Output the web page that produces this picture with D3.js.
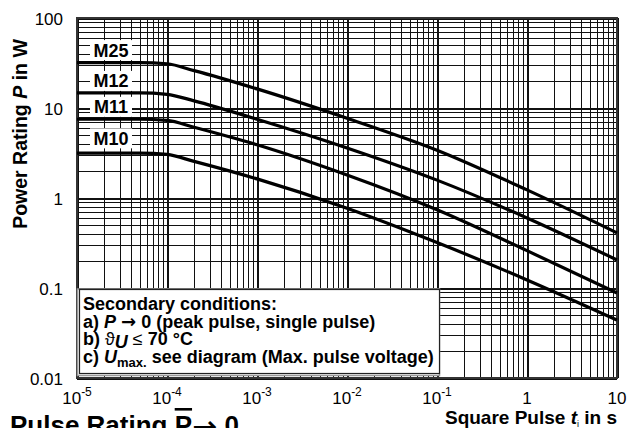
<!DOCTYPE html>
<html>
<head>
<meta charset="utf-8">
<script src="https://cdn.jsdelivr.net/npm/d3@7"></script>
<style>
  body { margin: 0; background: #fff; }
  svg { display: block; font-family: "Liberation Sans", Arial, sans-serif; }
  .grid line { stroke: #111; stroke-width: 1; shape-rendering: crispEdges; }
  .grid .major line { stroke-width: 2; }
  .grid path { display: none; }
  .curve { fill: none; stroke: #000; stroke-width: 3.2; }
  .arrow { font-family: "DejaVu Sans", sans-serif; }
</style>
</head>
<body>
<div id="chart"></div>
<script>
// pulse duration (s) sample points and the read-off power rating (W) of each type
var pulseT = [1e-5, 5e-5, 1e-4, 2e-4, 1e-3, 1e-2, 1e-1, 1, 10];
var m25 = [32, 32, 31, 26, 16.3, 7.7, 3.4, 1.23, 0.41];
var m12 = [14.7, 14.7, 14.2, 12, 7.5, 3.6, 1.58, 0.6, 0.205];
var m11 = [7.5, 7.5, 7.3, 6.1, 3.9, 1.8, 0.74, 0.26, 0.088];
var m10 = [3.16, 3.16, 3.05, 2.55, 1.63, 0.77, 0.32, 0.123, 0.044];

var seriesNames = ["M25", "M12", "M11", "M10"];
var labelValues = [44, 20, 10.3, 4.6];   // where the type labels sit on the P axis

var xDecades = [-5, -4, -3, -2, -1, 0, 1];
var yTicks = [100, 10, 1, 0.1, 0.01];
var yTickLabels = ["100", "10", "1", "0.1", "0.01"];

var width = 631, height = 428;
var margin = { top: 18, right: 14, bottom: 50, left: 77 };

var svg = d3.select("#chart")
  .append("svg")
  .attr("width", width)
  .attr("height", height);

var xScale = d3.scaleLog()
  .domain([1e-5, 10])
  .range([margin.left, width - margin.right]);

var yScale = d3.scaleLog()
  .domain([0.01, 100])
  .range([height - margin.bottom, margin.top]);

// log grid values 1..9 per decade
function logGrid(lo, hi) {
  var vals = [];
  for (var d = lo; d < hi; d++) {
    for (var k = 1; k < 10; k++) vals.push(+(k * Math.pow(10, d)).toPrecision(3));
  }
  vals.push(Math.pow(10, hi));
  return vals;
}
function isMajor(v) {
  var l = Math.log10(v);
  return Math.abs(l - Math.round(l)) < 1e-6;
}

var plotW = xScale.range()[1] - xScale.range()[0];
var plotH = yScale.range()[0] - yScale.range()[1];

var xGrid = svg.append("g")
  .attr("class", "grid")
  .attr("transform", "translate(0," + yScale.range()[0] + ")")
  .call(d3.axisBottom(xScale).tickValues(logGrid(-5, 1)).tickSize(-plotH).tickFormat(""));
xGrid.selectAll(".tick").classed("major", function(d) { return isMajor(d); });

var yGrid = svg.append("g")
  .attr("class", "grid")
  .attr("transform", "translate(" + xScale.range()[0] + ",0)")
  .call(d3.axisLeft(yScale).tickValues(logGrid(-2, 2)).tickSize(-plotW).tickFormat(""));
yGrid.selectAll(".tick").classed("major", function(d) { return isMajor(d); });

// frame
svg.append("rect")
  .attr("x", xScale.range()[0])
  .attr("y", yScale.range()[1])
  .attr("width", plotW)
  .attr("height", plotH)
  .attr("fill", "none")
  .attr("stroke", "#333")
  .attr("stroke-width", 2);

// curves
var line = d3.line()
  .x(function(d) { return xScale(d.t); })
  .y(function(d) { return yScale(d.p); })
  .curve(d3.curveMonotoneX);

var allSeries = [m25, m12, m11, m10].map(function(vals, i) {
  return { name: seriesNames[i], values: vals.map(function(p, j) { return { t: pulseT[j], p: p }; }) };
});

svg.selectAll(".curve")
  .data(allSeries)
  .enter()
  .append("path")
  .attr("class", "curve")
  .attr("d", function(d) { return line(d.values); });

// type labels with white backing
var labels = svg.selectAll(".typeLabel")
  .data(seriesNames)
  .enter()
  .append("g")
  .attr("class", "typeLabel")
  .attr("transform", function(d, i) { return "translate(111," + yScale(labelValues[i]) + ")"; });

labels.append("rect")
  .attr("x", -21).attr("y", -10)
  .attr("width", 42).attr("height", 20)
  .attr("fill", "#fff");

labels.append("text")
  .attr("text-anchor", "middle")
  .attr("dy", "0.36em")
  .style("font-size", "18px")
  .style("font-weight", "bold")
  .text(function(d) { return d; });

// secondary conditions box
var box = svg.append("g").attr("transform", "translate(79,289)");
box.append("rect")
  .attr("x", -1.5).attr("y", 0)
  .attr("width", 362).attr("height", 86.5)
  .attr("fill", "#fff")
  .attr("stroke", "#999")
  .attr("stroke-width", 1.5);
box.append("rect")
  .attr("x", 0.5).attr("y", 0.5)
  .attr("width", 360).attr("height", 84)
  .attr("fill", "#fff")
  .attr("stroke", "#222")
  .attr("stroke-width", 1.2);

var boxText = box.append("text")
  .attr("x", 4)
  .style("font-size", "18px")
  .style("font-weight", "bold");

boxText.append("tspan").attr("x", 4).attr("y", 21).text("Secondary conditions:");

var la = boxText.append("tspan").attr("x", 4).attr("y", 39);
la.append("tspan").text("a) ");
la.append("tspan").style("font-style", "italic").text("P");
la.append("tspan").text(" ");
la.append("tspan").attr("class", "arrow").text("\u2192");
la.append("tspan").text(" 0 (peak pulse, single pulse)");

var lb = boxText.append("tspan").attr("x", 4).attr("y", 56);
lb.append("tspan").text("b) ");
lb.append("tspan").style("font-weight", "normal").text("\u03D1");
lb.append("tspan").style("font-style", "italic").attr("dy", 3).text("U");
lb.append("tspan").style("font-weight", "normal").attr("dy", -3).text(" \u2264 ");
lb.append("tspan").text("70 \u00B0C");

var lc = boxText.append("tspan").attr("x", 4).attr("y", 74);
lc.append("tspan").text("c) ");
lc.append("tspan").style("font-style", "italic").text("U");
lc.append("tspan").style("font-size", "13px").attr("dy", 4).text("max.");
lc.append("tspan").attr("dy", -4).text(" see diagram (Max. pulse voltage)");

// y tick labels
svg.selectAll(".yLabel")
  .data(yTicks)
  .enter()
  .append("text")
  .attr("class", "yLabel")
  .attr("x", 63)
  .attr("y", function(d) { return yScale(d); })
  .attr("dy", "0.4em")
  .attr("text-anchor", "end")
  .style("font-size", "17px")
  .text(function(d, i) { return yTickLabels[i]; });

// x tick labels 10^n
var xl = svg.selectAll(".xLabel")
  .data(xDecades)
  .enter()
  .append("text")
  .attr("class", "xLabel")
  .attr("x", function(d) { return xScale(Math.pow(10, d)); })
  .attr("y", 404)
  .attr("text-anchor", "middle")
  .style("font-size", "17px");

xl.each(function(d) {
  var t = d3.select(this);
  if (d === 0) { t.text("1"); return; }
  if (d === 1) { t.text("10"); return; }
  t.append("tspan").text("10");
  t.append("tspan").attr("dy", -8).style("font-size", "12px").text(String(d));
});

// axis titles
var xt = svg.append("text")
  .attr("x", 617)
  .attr("y", 424)
  .attr("text-anchor", "end")
  .style("font-size", "19px")
  .style("font-weight", "bold");
xt.append("tspan").text("Square Pulse ");
xt.append("tspan").style("font-style", "italic").text("t");
xt.append("tspan").attr("dy", 3).style("font-size", "9px").style("font-weight", "normal").text("i");
xt.append("tspan").attr("dy", -3).text(" in s");

var yt = svg.append("text")
  .attr("transform", "translate(27,134) rotate(-90)")
  .attr("text-anchor", "middle")
  .style("font-size", "19.5px")
  .style("font-weight", "bold");
yt.append("tspan").text("Power Rating ");
yt.append("tspan").style("font-style", "italic").text("P");
yt.append("tspan").text(" in W");

// chart title, cut off at the bottom edge
var title = svg.append("text")
  .attr("x", 10)
  .attr("y", 434)
  .style("font-size", "26px")
  .style("font-weight", "bold");
title.append("tspan").text("Pulse Rating ");
title.append("tspan").style("text-decoration", "overline").text("P");
title.append("tspan").attr("class", "arrow").attr("dy", 3).style("font-size", "30px").text("\u2192");
title.append("tspan").attr("dy", -3).text(" 0");
</script>
</body>
</html>
